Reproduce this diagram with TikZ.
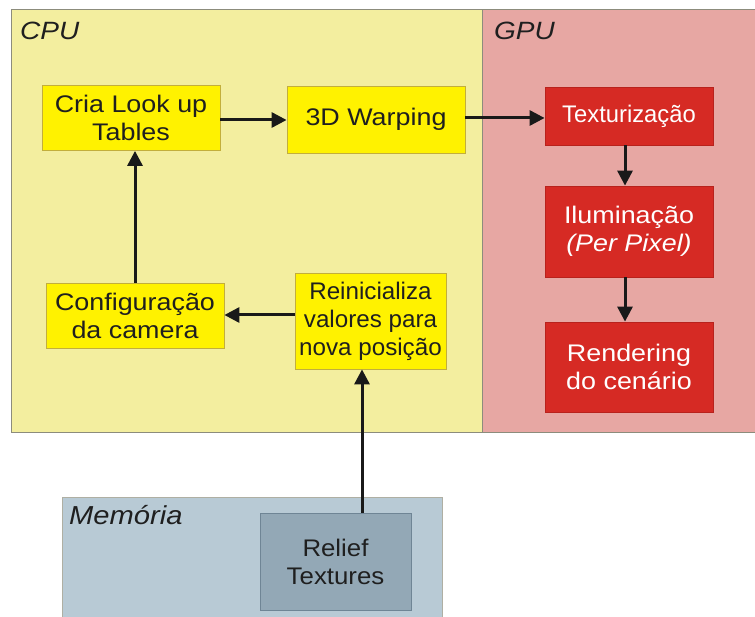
\documentclass[tikz,border=0pt]{standalone}
\usepackage{fontspec}
\setmainfont{Liberation Sans}[FakeStretch=1.12]
\usetikzlibrary{arrows.meta}
\definecolor{cpubg}{HTML}{F3EE9F}
\definecolor{gpubg}{HTML}{E7A7A3}
\definecolor{membg}{HTML}{B8CAD5}
\definecolor{regionedge}{HTML}{8C8C7C}
\definecolor{ybox}{HTML}{FFF200}
\definecolor{yedge}{HTML}{C2AE3C}
\definecolor{rbox}{HTML}{D62A24}
\definecolor{redge}{HTML}{B8221C}
\definecolor{bbox}{HTML}{93A8B6}
\definecolor{bedge}{HTML}{6F8595}
% narrower setting for a single line of box text
\newcommand{\narrow}[2][0.9]{\scalebox{#1}[1]{#2}}
\tikzset{
  region/.style={draw=regionedge, line width=1pt},
  regionlabel/.style={anchor=base west, inner sep=0pt, font=\fontsize{25}{29}\selectfont\itshape, text=black!88},
  cpubox/.style={draw=yedge, fill=ybox, line width=0.8pt, align=center, inner sep=0pt,
    font=\fontsize{24}{28}\selectfont, text=black!88},
  gpubox/.style={draw=redge, fill=rbox, line width=0.8pt, align=center, inner sep=0pt,
    font=\fontsize{24}{28}\selectfont, text=white},
  membox/.style={draw=bedge, fill=bbox, line width=0.8pt, align=center, inner sep=0pt,
    font=\fontsize{24}{28}\selectfont, text=black!88},
  flow/.style={line width=3pt, black!90, -{Triangle[length=15pt,width=15pt]}},
}
\begin{document}
\begin{tikzpicture}[x=1pt, y=-1pt]
  \useasboundingbox (0,0) rectangle (755,617);
  % processing regions
  \path[region, fill=cpubg] (11,10) rectangle (482,432);
  \path[region, fill=gpubg] (482,10) rectangle (760,432);
  \path[region, fill=membg, draw=regionedge!70] (62,497) rectangle (442,625);
  \node[regionlabel] (cpulbl) at (20,40) {CPU};
  \node[regionlabel] (gpulbl) at (494,40) {GPU};
  \node[regionlabel, font=\fontsize{26}{30}\selectfont\itshape] (memlbl) at (69,524) {Memória};
  % CPU stages
  \node[cpubox, minimum width=178pt, minimum height=65pt] (cria) at (131,118) {Cria Look up\\Tables};
  \node[cpubox, minimum width=178pt, minimum height=67pt] (warp) at (376,119.5) {3D Warping};
  \node[cpubox, minimum width=178pt, minimum height=65pt] (conf) at (135,315.5) {Configuração\\da camera};
  \node[cpubox, minimum width=151pt, minimum height=96pt] (rein) at (370.5,321)
    {\narrow{Reinicializa}\\\narrow{valores para}\\\narrow{nova posição}};
  % GPU stages
  \node[gpubox, minimum width=168pt, minimum height=58pt] (tex) at (629,116) {\narrow[0.885]{Texturização}};
  \node[gpubox, minimum width=168pt, minimum height=91pt] (ilum) at (629,231.5) {Iluminação\\\textit{(Per Pixel)}};
  \node[gpubox, minimum width=168pt, minimum height=90pt] (rend) at (629,367) {Rendering\\do cenário};
  % memory
  \node[membox, minimum width=151pt, minimum height=97pt] (relief) at (335.5,561.5)
    {\narrow[0.96]{Relief}\\\narrow[0.96]{Textures}};
  % connectors
  \draw[flow] (cria.east |- 0,120) -- (warp.west |- 0,120);
  \draw[flow] (warp.east |- 0,118) -- (tex.west |- 0,118);
  \draw[flow] (conf.north -| 135,0) -- (cria.south -| 135,0);
  \draw[flow] (rein.west |- 0,315) -- (conf.east |- 0,315);
  \draw[flow] (relief.north -| 362,0) -- (rein.south -| 362,0);
  \draw[flow] (tex.south -| 625,0) -- (ilum.north -| 625,0);
  \draw[flow] (ilum.south -| 625,0) -- (rend.north -| 625,0);
\end{tikzpicture}
\end{document}
